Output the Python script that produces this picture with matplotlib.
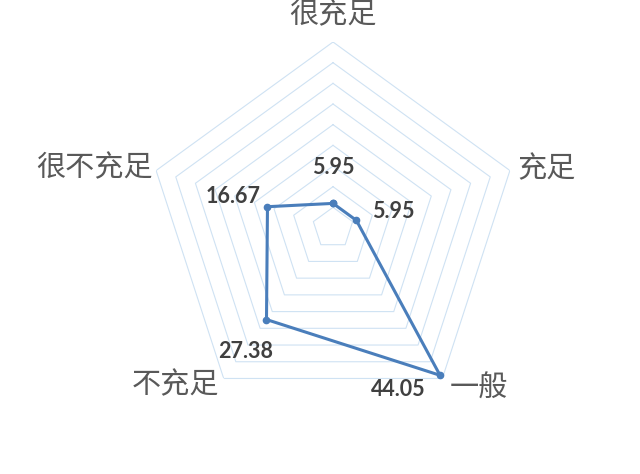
import numpy as np
import matplotlib
matplotlib.use("Agg")
import matplotlib.pyplot as plt

plt.rcParams['font.family'] = ['Noto Sans CJK SC', 'DejaVu Sans']

# data
categories = ['很充足', '充足', '一般', '不充足', '很不充足']
values = [5.95, 5.95, 44.05, 27.38, 16.67]
ring_levels = [5, 10, 15, 20, 25, 30, 35, 40, 45]

line_color = '#4a7ebb'
grid_color = '#cfe2f3'
label_color = '#595959'
value_color = '#404040'

n = len(categories)
angles = np.linspace(0, 2 * np.pi, n, endpoint=False)
closed_angles = np.append(angles, angles[0])
closed_values = values + values[:1]

fig = plt.figure(figsize=(6.4, 4.74), dpi=100)
ax = fig.add_axes([0.2297, 0.1266, 0.58125, 0.7848], projection='polar')
ax.set_theta_offset(np.pi / 2)
ax.set_theta_direction(-1)
ax.set_ylim(0, 45)
ax.axis('off')

# pentagon rings
for lvl in ring_levels:
    ax.plot(closed_angles, [lvl] * (n + 1), color=grid_color, lw=0.8, zorder=1)

# series
ax.plot(closed_angles, closed_values, color=line_color, lw=2.2, zorder=3,
        marker='o', markersize=4.5, clip_on=False)

# category labels (offsets in pixels from outer vertex)
cat_offsets = [(0, 27, 'center'), (7, 1, 'left'), (7, -10, 'left'),
               (-5, -7, 'right'), (-3, 2, 'right')]
for ang, name, (dx, dy, ha) in zip(angles, categories, cat_offsets):
    ax.annotate(name, xy=(ang, 45), xytext=(dx, dy), textcoords='offset pixels',
                ha=ha, va='center', fontsize=21, color=label_color,
                annotation_clip=False)

# value labels
val_offsets = [(0, 36), (37, 9), (-42, -14), (-21, -32), (-34, 10)]
for ang, v, (dx, dy) in zip(angles, values, val_offsets):
    ax.annotate(f'{v:.2f}', xy=(ang, v), xytext=(dx, dy), textcoords='offset pixels',
                ha='center', va='center', fontsize=15.5, fontweight='bold',
                family=['Lato', 'DejaVu Sans'], color=value_color,
                annotation_clip=False)

fig.savefig('out.png', dpi=100)
